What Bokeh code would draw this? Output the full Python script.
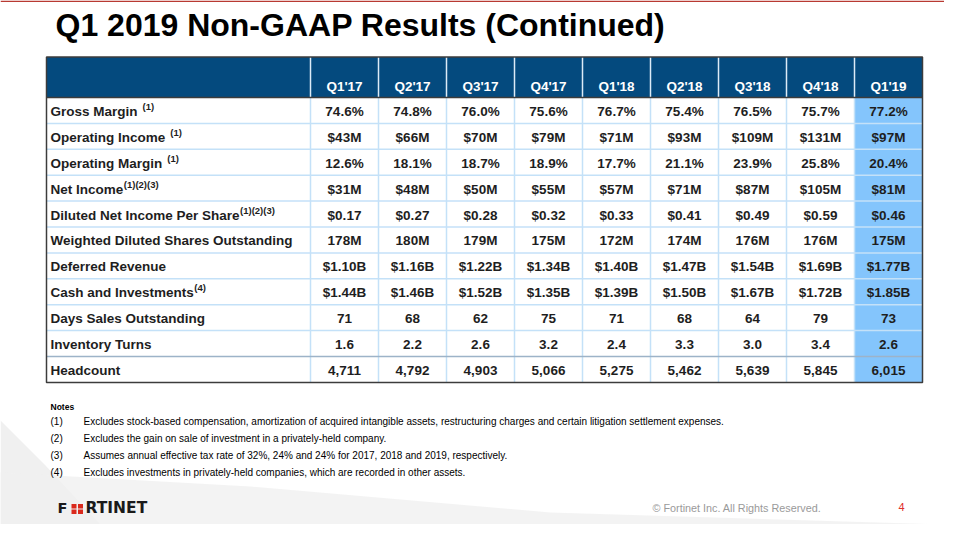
from bokeh.plotting import figure
from bokeh.models import Range1d
from bokeh.core.properties import value
from bokeh.embed import file_html
from bokeh.resources import INLINE

# ---------------- data ----------------
quarters = ["Q1'17", "Q2'17", "Q3'17", "Q4'17", "Q1'18", "Q2'18", "Q3'18", "Q4'18", "Q1'19"]
row_labels = ["Gross Margin", "Operating Income", "Operating Margin", "Net Income",
              "Diluted Net Income Per Share", "Weighted Diluted Shares Outstanding",
              "Deferred Revenue", "Cash and Investments", "Days Sales Outstanding",
              "Inventory Turns", "Headcount"]
row_notes = ["(1)", "(1)", "(1)", "(1)(2)(3)", "(1)(2)(3)", "", "", "(4)", "", "", ""]
row_note_space = [True, True, True, False, False, False, False, False, False, False, False]

gross_margin = ["74.6%", "74.8%", "76.0%", "75.6%", "76.7%", "75.4%", "76.5%", "75.7%", "77.2%"]
operating_income = ["$43M", "$66M", "$70M", "$79M", "$71M", "$93M", "$109M", "$131M", "$97M"]
operating_margin = ["12.6%", "18.1%", "18.7%", "18.9%", "17.7%", "21.1%", "23.9%", "25.8%", "20.4%"]
net_income = ["$31M", "$48M", "$50M", "$55M", "$57M", "$71M", "$87M", "$105M", "$81M"]
diluted_eps = ["$0.17", "$0.27", "$0.28", "$0.32", "$0.33", "$0.41", "$0.49", "$0.59", "$0.46"]
diluted_shares = ["178M", "180M", "179M", "175M", "172M", "174M", "176M", "176M", "175M"]
deferred_revenue = ["$1.10B", "$1.16B", "$1.22B", "$1.34B", "$1.40B", "$1.47B", "$1.54B", "$1.69B", "$1.77B"]
cash_investments = ["$1.44B", "$1.46B", "$1.52B", "$1.35B", "$1.39B", "$1.50B", "$1.67B", "$1.72B", "$1.85B"]
days_sales_outstanding = ["71", "68", "62", "75", "71", "68", "64", "79", "73"]
inventory_turns = ["1.6", "2.2", "2.6", "3.2", "2.4", "3.3", "3.0", "3.4", "2.6"]
headcount = ["4,711", "4,792", "4,903", "5,066", "5,275", "5,462", "5,639", "5,845", "6,015"]

rows = [gross_margin, operating_income, operating_margin, net_income, diluted_eps,
        diluted_shares, deferred_revenue, cash_investments, days_sales_outstanding,
        inventory_turns, headcount]

note_marks = ["(1)", "(2)", "(3)", "(4)"]
note_texts = [
    "Excludes stock-based compensation, amortization of acquired intangible assets, restructuring charges and certain litigation settlement expenses.",
    "Excludes the gain on sale of investment in a privately-held company.",
    "Assumes annual effective tax rate of 32%, 24% and 24% for 2017, 2018 and 2019, respectively.",
    "Excludes investments in privately-held companies, which are recorded in other assets.",
]

title = "Q1 2019 Non-GAAP Results (Continued)"
copyright_text = "\u00a9 Fortinet Inc. All Rights Reserved."
page_number = "4"

# ---------------- styling / geometry ----------------
FONT = "Liberation Sans"
HEADER_BLUE = "#044A7E"
HILITE = "#84C5FC"
GRID_BLUE = "#C4E1F8"
BORDER = "#3C3C3C"
TEXT = "#1E1E1E"

T_LEFT = 46.0
LABEL_W = 264.0
COL_W = 68.0
H_TOP = 56.5
H_BOT = 97.0
ROW_H = 25.9
n_cols = len(quarters)
n_rows = len(row_labels)
T_RIGHT = T_LEFT + LABEL_W + COL_W * n_cols
T_BOT = H_BOT + ROW_H * n_rows

# Arial/Liberation Sans Bold advance widths (per 1000 em) for superscript placement
BW = {" ": 278, "A": 722, "B": 722, "C": 722, "D": 722, "E": 667, "F": 611, "G": 778, "H": 722,
      "I": 278, "J": 556, "K": 722, "L": 611, "M": 833, "N": 722, "O": 778, "P": 667, "Q": 778,
      "R": 722, "S": 667, "T": 611, "U": 722, "V": 667, "W": 944, "X": 667, "Y": 667, "Z": 611,
      "a": 556, "b": 611, "c": 556, "d": 611, "e": 556, "f": 333, "g": 611, "h": 611, "i": 278,
      "j": 278, "k": 556, "l": 278, "m": 889, "n": 611, "o": 611, "p": 611, "q": 611, "r": 389,
      "s": 556, "t": 333, "u": 611, "v": 556, "w": 778, "x": 556, "y": 556, "z": 500}


def bold_width(s, size):
    return sum(BW.get(c, 556) for c in s) * size / 1000.0


def base(y, size):
    # compensate the svg renderer's baseline offset (about 0.4 em)
    return y - 0.4 * size


p = figure(width=944, height=524, x_range=Range1d(0, 944), y_range=Range1d(524, 0),
           output_backend="svg", toolbar_location=None, min_border=0,
           x_axis_location=None, y_axis_location=None)
p.grid.visible = False
p.outline_line_color = None
p.background_fill_color = "white"
p.border_fill_color = "white"

# top accent line and subtle background swooshes (decoration)
p.quad(left=[0], right=[944], top=[0], bottom=[1.6], fill_color="#B83A32", line_color=None)
p.patch([0, 45, 100, 0], [420, 465, 524, 524], fill_color="#E6E6E6", fill_alpha=0.6, line_color=None)
p.patch([0, 250, 550, 944, 944, 0], [472, 486, 512, 524, 524, 524], fill_color="#F0F0F0",
        fill_alpha=0.8, line_color=None)

# title
p.text(x=[55], y=[base(37, 32)], text=[title], text_font=value(FONT), text_font_style="bold",
       text_font_size="32px", text_color="black", text_baseline="alphabetic")

# header band and highlighted column
p.quad(left=[T_LEFT], right=[T_RIGHT], top=[H_TOP], bottom=[H_BOT],
       fill_color=HEADER_BLUE, line_color=None)
last_left = T_LEFT + LABEL_W + COL_W * (n_cols - 1)
p.quad(left=[last_left], right=[T_RIGHT], top=[H_BOT], bottom=[T_BOT],
       fill_color=HILITE, line_color=None)

# column boundaries
col_edges = [T_LEFT + LABEL_W + COL_W * i for i in range(n_cols)]
p.segment(x0=col_edges, y0=[H_TOP] * n_cols, x1=col_edges, y1=[H_BOT] * n_cols,
          line_color="#DCEBF7", line_width=1.5)
p.segment(x0=col_edges, y0=[H_BOT] * n_cols, x1=col_edges, y1=[T_BOT] * n_cols,
          line_color=GRID_BLUE, line_width=1.5)

# row boundaries
row_edges = [H_BOT + ROW_H * i for i in range(1, n_rows)]
row_cols = [GRID_BLUE] * (n_rows - 2) + ["#9DB3C8"]
p.segment(x0=[T_LEFT] * len(row_edges), y0=row_edges, x1=[T_RIGHT] * len(row_edges), y1=row_edges,
          line_color=row_cols, line_width=1.5)

# outer border and header bottom
p.quad(left=[T_LEFT], right=[T_RIGHT], top=[H_TOP], bottom=[T_BOT],
       fill_color=None, line_color=BORDER, line_width=1.5)
p.segment(x0=[T_LEFT], y0=[H_BOT], x1=[T_RIGHT], y1=[H_BOT], line_color=BORDER, line_width=1.5)

# header text
centers = [T_LEFT + LABEL_W + COL_W * (i + 0.5) for i in range(n_cols)]
p.text(x=centers, y=[base(91, 13.5)] * n_cols, text=quarters, text_font=value(FONT),
       text_font_style="bold", text_font_size="13.5px", text_color="white",
       text_align="center", text_baseline="alphabetic")

# body values
vx, vy, vt = [], [], []
for r, vals in enumerate(rows):
    for c, v in enumerate(vals):
        vx.append(centers[c])
        vy.append(base(H_BOT + ROW_H * r + 19.3, 13.5))
        vt.append(v)
p.text(x=vx, y=vy, text=vt, text_font=value(FONT), text_font_style="bold",
       text_font_size="13.5px", text_color=TEXT, text_align="center", text_baseline="alphabetic")

# row labels
label_y = [base(H_BOT + ROW_H * r + 19.3, 13.5) for r in range(n_rows)]
p.text(x=[50] * n_rows, y=label_y, text=row_labels, text_font=value(FONT), text_font_style="bold",
       text_font_size="13.5px", text_color=TEXT, text_align="left", text_baseline="alphabetic")

sx, sy, st = [], [], []
for r, (lab, note, sp) in enumerate(zip(row_labels, row_notes, row_note_space)):
    if note:
        sx.append(50 + bold_width(lab, 13.5) + (5 if sp else 0.5))
        sy.append(label_y[r] - 5.0)
        st.append(note)
p.text(x=sx, y=sy, text=st, text_font=value(FONT), text_font_style="bold",
       text_font_size="9.5px", text_color=TEXT, text_align="left", text_baseline="alphabetic")

# notes
p.text(x=[50], y=[base(410, 8.5)], text=["Notes"], text_font=value(FONT), text_font_style="bold",
       text_font_size="8.5px", text_color="black", text_baseline="alphabetic")
ny = [base(424.5 + 17 * i, 10) for i in range(len(note_marks))]
p.text(x=[50] * len(note_marks), y=ny, text=note_marks, text_font=value(FONT),
       text_font_size="10px", text_color="black", text_baseline="alphabetic")
p.text(x=[83] * len(note_texts), y=ny, text=note_texts, text_font=value(FONT),
       text_font_size="10px", text_color="black", text_baseline="alphabetic")

# footer logo
p.text(x=[57], y=[base(513.5, 14.5)], text=["F"], text_font=value("DejaVu Sans"),
       text_font_style="bold", text_font_size="14.5px", text_color="#1a1a1a",
       text_baseline="alphabetic")
p.quad(left=[71, 77.5, 71, 77.5], right=[76, 82.5, 76, 82.5],
       top=[503.5, 503.5, 509, 509], bottom=[508, 508, 513.5, 513.5],
       fill_color="#DA291C", line_color=None)
p.text(x=[85], y=[base(513.5, 15.5)], text=["RTINET"], text_font=value("DejaVu Sans"),
       text_font_style="bold", text_font_size="15.5px", text_color="#1a1a1a",
       text_baseline="alphabetic")

p.text(x=[652], y=[base(512, 10.8)], text=[copyright_text], text_font=value(FONT),
       text_font_size="10.8px", text_color="#9A9A9A", text_baseline="alphabetic")
p.text(x=[898], y=[base(511, 11)], text=[page_number], text_font=value(FONT),
       text_font_size="11px", text_color="#E0302A", text_baseline="alphabetic")

open("out.html", "w").write(file_html(p, INLINE))
